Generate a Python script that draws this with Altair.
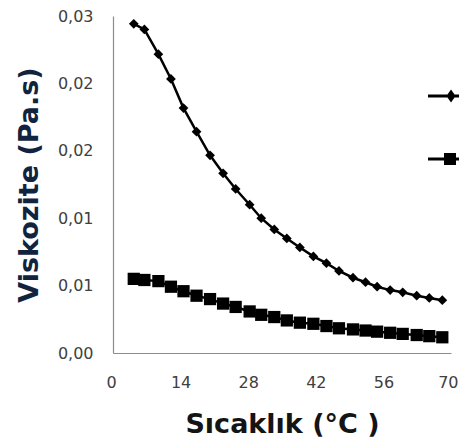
import altair as alt
import pandas as pd

# ---- data ----
temps = [4.3, 6.5, 9.4, 12.0, 14.6, 17.3, 20.1, 22.8, 25.4, 28.3, 30.7, 33.4, 36.0,
         38.7, 41.5, 44.2, 46.8, 49.7, 52.3, 54.7, 57.4, 60.0, 62.9, 65.5, 68.2]
visc_a = [0.0293, 0.0288, 0.0266, 0.0244, 0.0218, 0.0197, 0.0176, 0.0160, 0.0146,
          0.0132, 0.0120, 0.0110, 0.0102, 0.0094, 0.0086, 0.0080, 0.0073, 0.0067,
          0.0063, 0.0059, 0.0056, 0.0054, 0.0051, 0.0049, 0.0047]
visc_b = [0.0066, 0.0065, 0.0064, 0.0059, 0.0055, 0.0051, 0.0048, 0.0044, 0.0041,
          0.0037, 0.0034, 0.0032, 0.0029, 0.0027, 0.0026, 0.0024, 0.0022, 0.0021,
          0.0020, 0.0019, 0.0018, 0.0017, 0.0016, 0.0015, 0.0014]
series_names = ["Seri 1", "Seri 2"]
x_ticks = [0, 14, 28, 42, 56, 70]
y_ticks = [0, 0.006, 0.012, 0.018, 0.024, 0.03]

rows = []
for t, v in zip(temps, visc_a):
    rows.append({"temp": t, "visc": v, "series": series_names[0]})
for t, v in zip(temps, visc_b):
    rows.append({"temp": t, "visc": v, "series": series_names[1]})
df = pd.DataFrame(rows)

x_enc = alt.X(
    "temp:Q",
    scale=alt.Scale(domain=[0, 70], nice=False, zero=False),
    axis=alt.Axis(
        values=x_ticks, title="Sıcaklık (°C )", ticks=False, grid=False,
        labelFlush=True, labelFlushOffset=7,
        labelPadding=21, titlePadding=21, titleFontSize=27, titleFontWeight="bold",
        titleColor="#141414", titleFont="DejaVu Sans",
    ),
)
y_enc = alt.Y(
    "visc:Q",
    scale=alt.Scale(domain=[0, 0.03], nice=False),
    axis=alt.Axis(
        values=y_ticks, title="Viskozite (Pa.s)", ticks=False, grid=False,
        labelExpr="replace(format(datum.value, '.2f'), '.', ',')",
        labelPadding=20, titlePadding=14, titleFontSize=27, titleFontWeight="bold",
        titleColor="#10233f", titleFont="DejaVu Sans",
    ),
)

base = alt.Chart(df)

lines = base.mark_line(color="black", strokeWidth=2.5).encode(
    x=x_enc, y=y_enc, detail="series:N"
)
pts_a = base.transform_filter(alt.datum.series == series_names[0]).mark_point(
    shape="diamond", filled=True, color="black", opacity=1, size=95
).encode(x=x_enc, y=y_enc)
pts_b = base.transform_filter(alt.datum.series == series_names[1]).mark_point(
    shape="square", filled=True, color="black", opacity=1, size=150
).encode(x=x_enc, y=y_enc)

path_d = "M-1,-0.08L1,-0.08L1,0.08L-1,0.08Z M0.15,-0.33L0.38,0L0.15,0.33L-0.08,0Z"
path_s = "M-1,-0.08L1,-0.08L1,0.08L-1,0.08Z M-0.2,-0.3L0.4,-0.3L0.4,0.3L-0.2,0.3Z"

legend_layer = base.transform_filter("false").mark_point(
    filled=True, color="black", opacity=1
).encode(
    shape=alt.Shape(
        "series:N",
        scale=alt.Scale(domain=series_names, range=[path_d, path_s]),
        legend=alt.Legend(
            orient="none", legendX=315, legendY=60, padding=0, rowPadding=36,
            title=None, labelExpr="''", symbolSize=1600, symbolOffset=0,
            labelOffset=0, symbolFillColor="black", symbolStrokeWidth=0,
            symbolOpacity=1,
        ),
    )
)

chart = alt.layer(lines, pts_a, pts_b, legend_layer).resolve_scale(
    shape="independent"
).properties(
    width=338, height=337,
    autosize=alt.AutoSizeParams(type="none"),
    padding={"left": 105, "top": 8, "right": 8, "bottom": 84},
).configure_view(stroke=None).configure_axis(
    labelFont="DejaVu Sans", labelFontSize=16, labelColor="#404040",
    domainColor="#8c8c8c", domainWidth=1.2,
)

chart.save("out.html", embed_options={"renderer": "svg", "actions": False})
